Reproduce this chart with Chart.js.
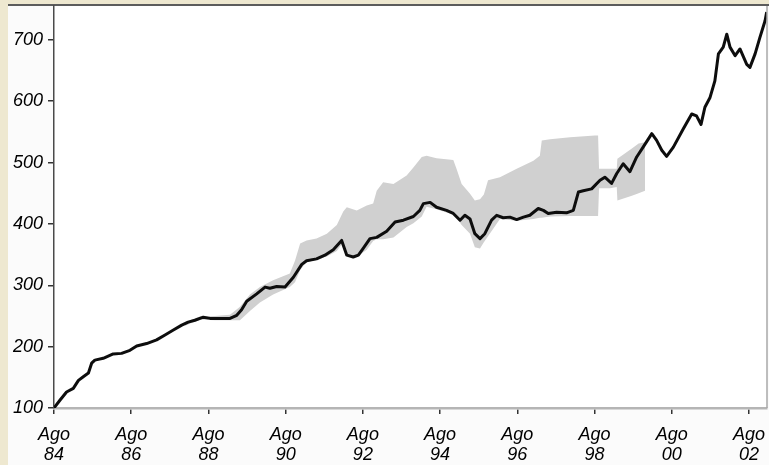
<!DOCTYPE html>
<html>
<head>
<meta charset="utf-8">
<script src="https://cdn.jsdelivr.net/npm/chart.js@4/dist/chart.umd.min.js"></script>
<style>
  html, body { margin: 0; padding: 0; background: #eee8d0; }
  #wrap { width: 769px; height: 465px; position: relative; }
  canvas { display: block; }
</style>
</head>
<body>
<div id="wrap"><canvas id="chart" width="769" height="465"></canvas></div>
<script>
// Months counted from August 1984 (0 = Ago 84)
const lineMonths = [0, 1.9, 3.9, 6.0, 7.6, 9.1, 10.7, 11.7, 12.7, 15.3, 18.4, 21.0, 23.6, 25.7, 28.8, 31.9,
  34.5, 37.1, 39.7, 41.7, 43.8, 46.4, 48.5, 51.6, 54.7, 56.8, 58.3, 59.9, 63.0, 65.6, 67.1, 69.2, 71.8,
  74.4, 77.0, 78.5, 81.6, 84.2, 86.8, 89.4, 91.0, 93.0, 94.6, 96.1, 98.2, 100.3, 103.4, 106.0, 108.6,
  111.7, 113.7, 114.8, 116.9, 118.9, 122.0, 124.1, 126.2, 127.7, 129.3, 130.8, 132.4, 133.9, 136.0,
  137.6, 139.6, 141.7, 143.8, 145.9, 147.9, 150.5, 152.1, 153.6, 156.2, 159.3, 161.4, 163.0, 164.5,
  167.1, 169.7, 171.2, 173.3, 174.9, 176.9, 179.0, 181.1, 183.1, 185.8, 187.3, 188.9, 190.4, 192.5,
  195.6, 198.2, 199.7, 201.1, 202.3, 203.9, 205.4, 206.5, 208.0, 209.1, 210.1, 211.7, 213.2, 215.3,
  216.3, 217.9, 219.4, 221.0, 221.5];
const lineValues = [100, 113, 126, 132, 145, 151, 157, 173, 178, 181, 188, 189, 194, 201, 205, 211,
  219, 227, 235, 240, 243, 248, 246, 246, 246, 251, 260, 274, 286, 297, 295, 298, 297,
  313, 334, 340, 343, 349, 358, 373, 349, 346, 349, 360, 376, 378, 388, 403, 406,
  412, 422, 433, 435, 427, 422, 417, 406, 414, 408, 384, 376, 384, 406,
  414, 410, 411, 407, 411, 414, 425, 422, 417, 419, 418, 422, 452, 454,
  457, 471, 476, 466, 482, 498, 485, 509, 525, 547, 536, 520, 510, 525,
  555, 579, 576, 562, 590, 606, 633, 677, 688, 709, 688, 674, 685, 660,
  655, 677, 704, 731, 745];

// Shaded range: upper and lower bounds
const bandMonths = [40.7, 45.4, 50.0, 54.7, 57.8, 60.9, 64.0, 68.1, 73.3, 74.9, 76.5, 78.5, 81.6, 84.8,
  87.9, 89.9, 91.0, 94.1, 97.2, 99.2, 100.3, 102.3, 105.5, 109.6, 111.7, 114.3, 115.8, 118.9, 124.1,
  125.1, 126.7, 129.3, 130.8, 132.4, 133.6, 134.9, 138.6, 143.8, 149.0, 151.0, 151.6, 154.2, 160.4,
  168.1, 169.1, 169.4, 172.8, 174.9, 175.1, 179.6, 181.7, 183.7];
const bandUpper = [240, 249, 250, 252, 265, 285, 297, 308, 319, 340, 368, 373, 376, 384,
  398, 420, 427, 422, 430, 433, 454, 468, 465, 479, 492, 509, 511, 507, 504,
  490, 465, 449, 438, 440, 448, 471, 476, 490, 503, 511, 536, 538, 541,
  544, 544, 490, 490, 490, 506, 523, 531, 533];
const bandLower = [234, 244, 243, 243, 243, 258, 272, 285, 297, 305, 325, 338, 341, 347,
  356, 370, 350, 346, 358, 372, 375, 375, 378, 395, 401, 412, 428, 424, 415,
  410, 398, 384, 362, 360, 370, 380, 408, 405, 408, 410, 410, 412, 413,
  413, 413, 458, 458, 460, 438, 446, 450, 454];

const yTicks = [100, 200, 300, 400, 500, 600, 700];
const xTickMonths = [0, 24, 48, 72, 96, 120, 144, 168, 192, 216];
const xTickLabels = ['84', '86', '88', '90', '92', '94', '96', '98', '00', '02'];

const toXY = (xs, ys) => xs.map((x, i) => ({ x: x, y: ys[i] }));

const tickFont = { family: "'Liberation Sans', Arial, sans-serif", size: 18, style: 'italic', lineHeight: 1.1 };

const framePlugin = {
  id: 'frame',
  beforeDraw(chart) {
    const { ctx, chartArea: a, width, height } = chart;
    ctx.save();
    ctx.fillStyle = '#eee8d0';
    ctx.fillRect(0, 0, width, height);
    ctx.fillStyle = '#fbfbfb';
    ctx.fillRect(8, 4, width - 8, height - 4);
    ctx.fillStyle = '#ffffff';
    ctx.fillRect(a.left, a.top, a.right - a.left, a.bottom - a.top);
    ctx.strokeStyle = '#5c5c5c';
    ctx.lineWidth = 2;
    ctx.beginPath();
    ctx.moveTo(8, 5);
    ctx.lineTo(width, 5);
    ctx.stroke();
    ctx.restore();
  },
  afterDraw(chart) {
    const { ctx, chartArea: a } = chart;
    ctx.save();
    ctx.strokeStyle = '#a8a8a8';
    ctx.lineWidth = 1.5;
    ctx.beginPath();
    ctx.moveTo(a.right, a.top);
    ctx.lineTo(a.right, a.bottom);
    ctx.stroke();
    ctx.restore();
  }
};

new Chart(document.getElementById('chart'), {
  type: 'line',
  data: {
    datasets: [
      {
        data: toXY(bandMonths, bandLower),
        borderColor: 'rgba(0,0,0,0)',
        borderWidth: 1,
        pointRadius: 0,
        fill: false,
        tension: 0,
        order: 2
      },
      {
        data: toXY(bandMonths, bandUpper),
        borderColor: 'rgba(0,0,0,0)',
        borderWidth: 1,
        backgroundColor: '#d0d0d0',
        pointRadius: 0,
        fill: '-1',
        tension: 0,
        order: 2
      },
      {
        data: toXY(lineMonths, lineValues),
        borderColor: '#0d0d0d',
        borderWidth: 3,
        borderJoinStyle: 'round',
        pointRadius: 0,
        fill: false,
        tension: 0,
        order: 1
      }
    ]
  },
  options: {
    responsive: false,
    animation: false,
    devicePixelRatio: 1,
    layout: { padding: { top: 6, right: 2, left: 0, bottom: 0 } },
    plugins: { legend: { display: false }, tooltip: { enabled: false } },
    scales: {
      x: {
        type: 'linear',
        min: 0,
        max: 221.6,
        afterBuildTicks: (s) => { s.ticks = xTickMonths.map(v => ({ value: v })); },
        afterFit: (s) => { s.height = 57; s.paddingLeft = 0; s.paddingRight = 0; },
        ticks: {
          autoSkip: false,
          maxRotation: 0,
          padding: 11,
          color: '#000000',
          font: tickFont,
          callback: (v, i) => ['Ago', xTickLabels[i]]
        },
        grid: { drawOnChartArea: false, drawTicks: true, tickLength: 6, color: '#333333', lineWidth: 1.5 },
        border: { color: '#b5b5b5', width: 2.5 }
      },
      y: {
        min: 100,
        max: 755,
        afterBuildTicks: (s) => { s.ticks = yTicks.map(v => ({ value: v })); },
        afterFit: (s) => { s.width = 54; s.paddingTop = 0; s.paddingBottom = 0; },
        ticks: {
          padding: 5,
          color: '#000000',
          font: tickFont,
          callback: (v) => String(v)
        },
        grid: { drawOnChartArea: false, drawTicks: true, tickLength: 6, color: '#333333', lineWidth: 1.5 },
        border: { color: '#4a4a4a', width: 1.5 }
      }
    }
  },
  plugins: [framePlugin]
});
</script>
</body>
</html>
